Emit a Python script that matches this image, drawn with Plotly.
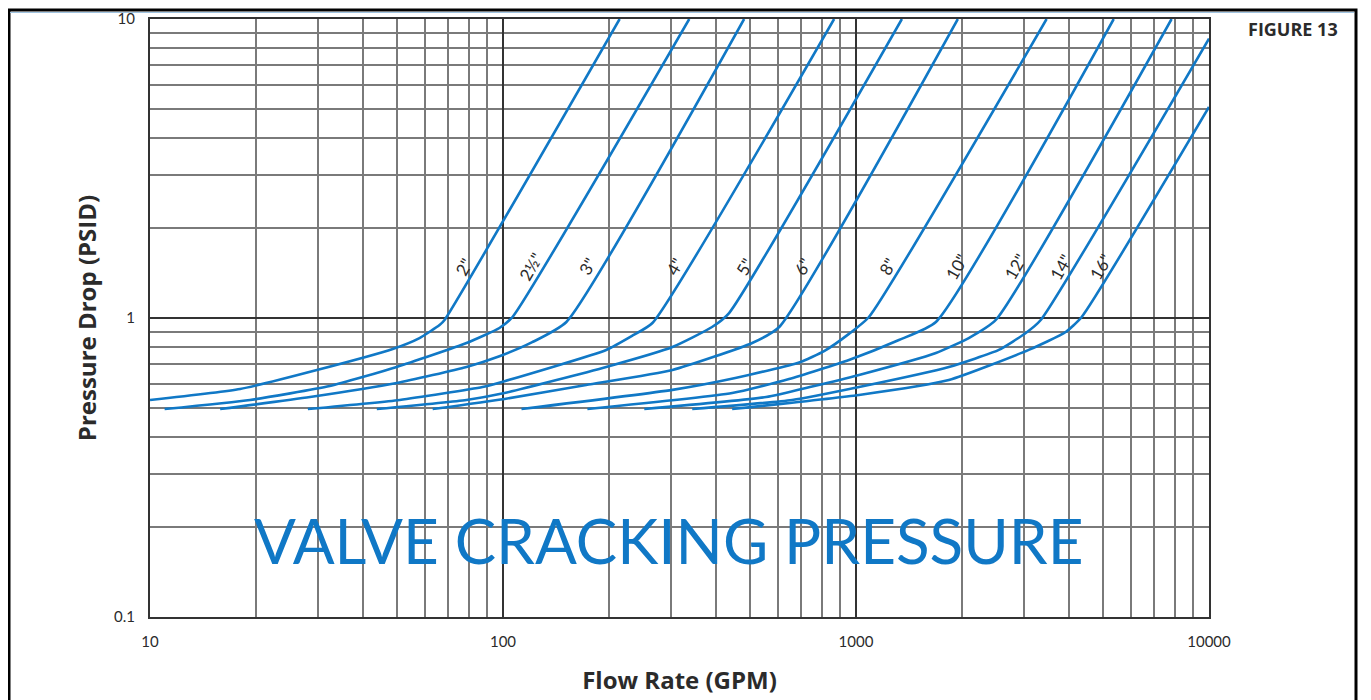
import numpy as np
import plotly.graph_objects as go

# ---------------- data ----------------
sizes = ['2"', '2½"', '3"', '4"', '5"', '6"', '8"', '10"', '12"', '14"', '16"']

flow_2 = [10, 18.0, 29.7, 48.7, 58.0, 66.1, 68.3, 214]
psid_2 = [0.532, 0.579, 0.670, 0.788, 0.857, 0.947, 0.985, 10]

flow_2_5 = [11.0, 19.2, 32.3, 50.0, 78.8, 97.7, 106.4, 337]
psid_2_5 = [0.496, 0.532, 0.592, 0.686, 0.825, 0.926, 1.008, 10]

flow_3 = [15.8, 28.4, 50.0, 78.8, 97.7, 121, 151.2, 482]
psid_3 = [0.496, 0.544, 0.606, 0.686, 0.745, 0.83, 0.970, 10]

flow_4 = [28.0, 51.0, 87.5, 101, 196, 232, 265, 867]
psid_4 = [0.496, 0.532, 0.588, 0.615, 0.782, 0.871, 0.962, 10]

flow_5 = [43.9, 78.8, 101, 196, 302, 391, 437, 1349]
psid_5 = [0.496, 0.532, 0.561, 0.686, 0.800, 0.933, 1.039, 10]

flow_6 = [63.2, 101, 172, 302, 508, 606, 1943]
psid_6 = [0.496, 0.536, 0.597, 0.670, 0.825, 0.933, 10]

flow_8 = [112.8, 302, 455, 690, 812, 955, 1088, 3467]
psid_8 = [0.496, 0.575, 0.630, 0.710, 0.775, 0.885, 1.008, 10]

flow_10 = [173.4, 446, 646, 955, 1323, 1684, 5371]
psid_10 = [0.496, 0.561, 0.625, 0.724, 0.844, 0.970, 10]

flow_12 = [251.3, 556.5, 751, 1020, 1684, 2087, 2489, 7834]
psid_12 = [0.496, 0.544, 0.590, 0.645, 0.764, 0.857, 0.985, 10]

flow_14 = [343.6, 659.2, 1020, 1832, 2538, 3027, 3337, 10000]
psid_14 = [0.496, 0.532, 0.588, 0.686, 0.782, 0.891, 0.985, 8.6]

flow_16 = [445.8, 1020, 1832, 3086, 3927, 4358, 10000]
psid_16 = [0.496, 0.553, 0.620, 0.782, 0.898, 1.008, 5.08]

flows = [flow_2, flow_2_5, flow_3, flow_4, flow_5, flow_6,
         flow_8, flow_10, flow_12, flow_14, flow_16]
psids = [psid_2, psid_2_5, psid_3, psid_4, psid_5, psid_6,
         psid_8, psid_10, psid_12, psid_14, psid_16]

x_major = [10, 100, 1000, 10000]
x_major_text = ["10", "100", "1000", "10000"]
y_major = [0.1, 1, 10]
y_major_text = ["0.1", "1", "10"]

label_psid = 1.54   # pressure level at which size labels sit

# ---------------- styling ----------------
BLUE = "rgb(16,120,198)"
TXT = "#2b2b2b"
FONT = "Lato"
BOLD = "Open Sans"

OFF = 8                      # page body offset
W, H = 1363, 692
L, T = 142, 11
pw, ph = 1059, 598
R, B = W - L - pw, H - T - ph


def px_x(px):
    return (px - OFF - L) / pw


def px_y(py):
    return (T + ph - (py - OFF)) / ph


fig = go.Figure()

for name, fq, fp in zip(sizes, flows, psids):
    fig.add_trace(go.Scatter(
        x=fq, y=fp, mode="lines", name=name,
        line=dict(color=BLUE, width=2.6, shape="spline", smoothing=0.5),
        showlegend=False, hoverinfo="skip"))

annotations = []
for name, fq, fp in zip(sizes, flows, psids):
    lq = np.log10(fq)
    lp = np.log10(fp)
    x_at = np.interp(np.log10(label_psid), [lp[-2], lp[-1]], [lq[-2], lq[-1]])
    annotations.append(dict(
        x=x_at, y=np.log10(label_psid), xref="x", yref="y",
        text=name, showarrow=False, textangle=-60, xshift=-14, yshift=-5,
        xanchor="center", yanchor="middle",
        font=dict(family=FONT, size=17, color=TXT)))

annotations.append(dict(
    x=px_x(668), y=px_y(540), xref="paper", yref="paper",
    xanchor="center", yanchor="middle",
    text="VALVE CRACKING PRESSURE", showarrow=False,
    font=dict(family=FONT, size=62, color=BLUE)))

annotations.append(dict(
    x=px_x(1293), y=px_y(29), xref="paper", yref="paper",
    xanchor="center", yanchor="middle",
    text="<b>FIGURE 13</b>", showarrow=False,
    font=dict(family=BOLD, size=18, color=TXT)))

x_minor = [m * d for d in [10, 100, 1000] for m in range(2, 10)]
y_minor = [m * d for d in [0.1, 1] for m in range(2, 10)]

common = dict(
    showgrid=True, gridcolor="#333333", gridwidth=2,
    showline=True, linecolor="#333333", linewidth=2, mirror=True,
    ticks="", ticklabelstandoff=10, zeroline=False,
    tickfont=dict(family=FONT, size=15, color=TXT),
)

fig.update_xaxes(
    type="log", range=[1, 4],
    tickvals=x_major, ticktext=x_major_text,
    minor=dict(tickvals=x_minor, showgrid=True, gridcolor="#7a7a7a", gridwidth=1.5, ticks=""),
    title=dict(text="<b>Flow Rate (GPM)</b>", standoff=23,
               font=dict(family=BOLD, size=24, color=TXT)),
    **common)

fig.update_yaxes(
    type="log", range=[-1, 1],
    tickvals=y_major, ticktext=y_major_text,
    minor=dict(tickvals=y_minor, showgrid=True, gridcolor="#7a7a7a", gridwidth=1.5, ticks=""),
    title=dict(text="<b>Pressure Drop (PSID)</b>", standoff=11,
               font=dict(family=BOLD, size=24, color=TXT)),
    **common)

shapes = [
    dict(type="rect", xref="paper", yref="paper",
         x0=px_x(9), x1=px_x(1356), y0=px_y(720), y1=px_y(10),
         line=dict(color="black", width=3), fillcolor="rgba(0,0,0,0)"),
    dict(type="line", xref="paper", yref="paper",
         x0=px_x(10), x1=px_x(1354), y0=px_y(12.5), y1=px_y(12.5),
         line=dict(color="#9fc3e0", width=1)),
]

fig.update_layout(
    width=W, height=H,
    margin=dict(l=L, r=R, t=T, b=B, autoexpand=False),
    paper_bgcolor="white", plot_bgcolor="white",
    annotations=annotations, shapes=shapes,
    font=dict(family=FONT, color=TXT),
)

fig.write_html("out.html")
